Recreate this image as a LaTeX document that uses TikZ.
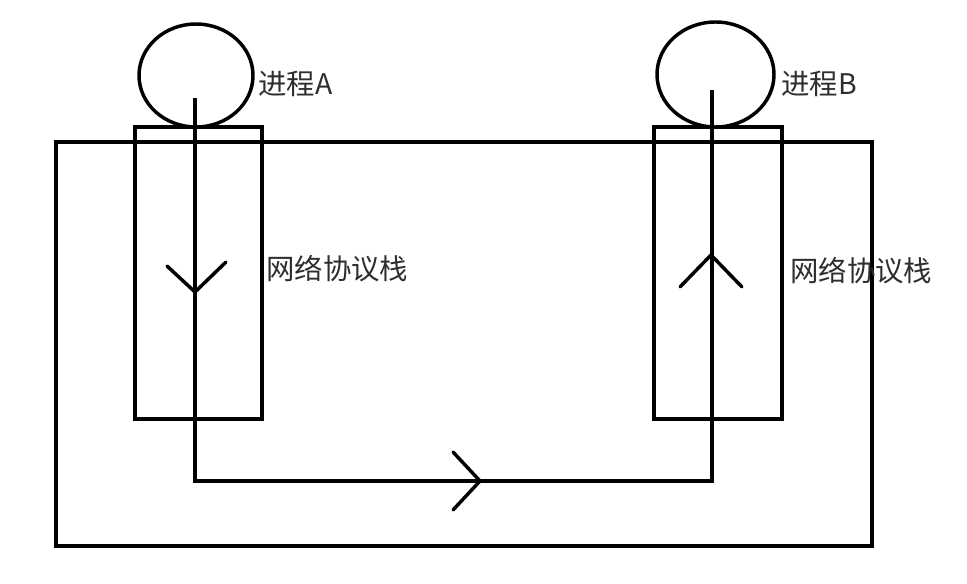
\documentclass[tikz,border=0pt]{standalone}
\usepackage{fontspec}
\newfontfamily\cjk{Noto Sans CJK SC}
\usetikzlibrary{shapes.geometric,calc}
\begin{document}
\begin{tikzpicture}[x=0.75pt,y=-0.75pt,
  line/.style={line width=2.6pt,black},
  proc/.style={draw,line width=2.6pt,ellipse,inner sep=0pt},
  stackbox/.style={draw,line width=2.6pt,rectangle,inner sep=0pt},
  lbl/.style={anchor=west,inner sep=0pt,text=black!82,font=\cjk\fontsize{21.3}{25}\selectfont}]
\useasboundingbox (0,0) rectangle (967,584);
% outer frame
\draw[line] (56,142) rectangle (872,546);
% stack boxes
\node[stackbox,minimum width=127*0.75pt,minimum height=292*0.75pt] (sa) at (198.5,273) {};
\node[stackbox,minimum width=128*0.75pt,minimum height=292*0.75pt] (sb) at (718,273) {};
% processes
\node[proc,fill=white,minimum width=114*0.75pt,minimum height=103*0.75pt] (pa) at (196,75.5) {};
\node[proc,fill=white,minimum width=117*0.75pt,minimum height=105*0.75pt] (pb) at (715.5,74.5) {};
% labels
\node[lbl] (la) at (258,84) {进程A};
\node[lbl] (lb) at (781,84) {进程B};
\node[lbl] (lsa) at (266,269) {网络协议栈};
\node[lbl] (lsb) at (790,271) {网络协议栈};
% path
\coordinate (a0) at (195,98);
\coordinate (a1) at (195,481);
\coordinate (b1) at (712,481);
\coordinate (b0) at (712,90);
\draw[line,line join=miter] (a0) -- (a1) -- (b1) -- (b0);
% arrow heads
\coordinate (ta) at (195,292);
\draw[line,line cap=round,line join=miter] ($(ta)+(-28,-26)$) -- (ta) -- ($(ta)+(31,-30)$);
\coordinate (tb) at (711,255);
\draw[line,line cap=round,line join=miter] ($(tb)+(-31,32)$) -- (tb) -- ($(tb)+(31,32)$);
\coordinate (tc) at (480,481);
\draw[line,line cap=round,line join=miter] ($(tc)+(-27,-29)$) -- (tc) -- ($(tc)+(-27,29)$);
\end{tikzpicture}
\end{document}
